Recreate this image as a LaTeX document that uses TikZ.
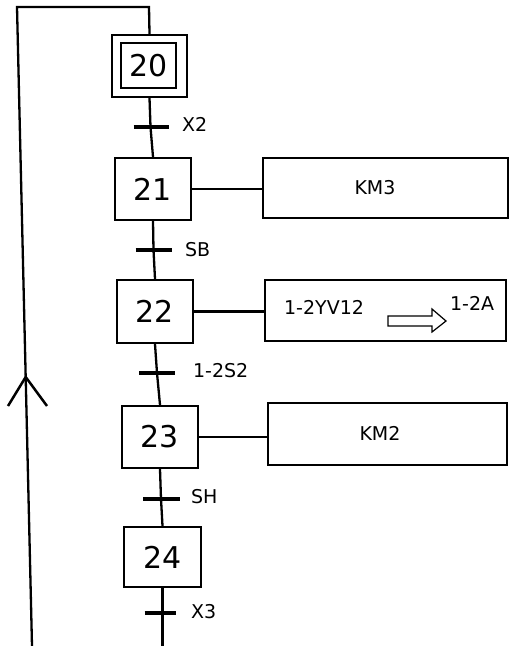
\documentclass[tikz,border=0pt]{standalone}
\usepackage{fontspec}
\setmainfont{DejaVu Sans}
\begin{document}
\begin{tikzpicture}[x=1pt,y=-1pt,line width=2.3pt,
  stepbox/.style={draw,minimum width=76pt,minimum height=62pt,inner sep=0pt,font=\fontsize{30}{31}\selectfont},
  actbox/.style={draw,inner sep=0pt},
  lbl/.style={anchor=west,inner sep=0pt,font=\fontsize{19}{20}\selectfont},
  bar/.style={line width=3.2pt}]
\useasboundingbox (0,0) rectangle (510,646);
% steps
\node[stepbox,minimum width=75pt,minimum height=62pt] (s20) at (149.5,66) {};
\node[stepbox,minimum width=55pt,minimum height=45pt] (s20i) at (148.5,65.5) {20};
\node[stepbox] (s21) at (153,189) {21};
\node[stepbox,minimum height=63pt] (s22) at (155,311.5) {22};
\node[stepbox] (s23) at (160,437) {23};
\node[stepbox,minimum width=77pt,minimum height=60pt] (s24) at (162.5,557) {24};
% actions
\node[actbox,minimum width=245pt,minimum height=60pt] (a21) at (385.5,188) {};
\node[font=\fontsize{19}{20}\selectfont] (t21) at (375,188) {KM3};
\node[actbox,minimum width=241pt,minimum height=61pt] (a22) at (385.5,310.5) {};
\node[lbl] (t22a) at (283,307) {1-2YV12};
\node[lbl] (t22b) at (449,303) {1-2A};
\node[actbox,minimum width=239pt,minimum height=62pt] (a23) at (387.5,434) {};
\node[font=\fontsize{19}{20}\selectfont] (t23) at (380,433) {KM2};
% hollow arrow
\draw[line width=1.2pt] (388,316) -- (432,316) -- (432,309) -- (446,321) -- (432,332) -- (432,326) -- (388,326) -- cycle;
% transitions
\coordinate (tr1) at (150.5,127);
\coordinate (tr2) at (153.5,250);
\coordinate (tr3) at (157,373);
\coordinate (tr4) at (161,499);
\coordinate (tr5) at (162.5,613);
\draw[bar] ([xshift=-17pt]tr1) -- ([xshift=18pt]tr1);
\draw[bar] ([xshift=-18pt]tr2) -- ([xshift=18pt]tr2);
\draw[bar] ([xshift=-18pt]tr3) -- ([xshift=18pt]tr3);
\draw[bar] ([xshift=-18pt]tr4) -- ([xshift=19pt]tr4);
\draw[bar] ([xshift=-18pt]tr5) -- ([xshift=13pt]tr5);
\node[lbl] (l1) at (181,124) {X2};
\node[lbl] (l2) at (184,250) {SB};
\node[lbl] (l3) at (192,371) {1-2S2};
\node[lbl] (l4) at (190,497) {SH};
\node[lbl] (l5) at (190,612) {X3};
% vertical links
\draw (s20.south) -- (tr1) -- (s21.north);
\draw (s21.south) -- (tr2) -- (s22.north);
\draw (s22.south) -- (tr3) -- (s23.north);
\draw (s23.south) -- (tr4) -- (s24.north);
\coordinate (bot) at (162.5,646);
\draw (s24.south) -- (tr5) -- (bot);
% action links
\draw (s21.east) -- (s21.east -| a21.west);
\draw (s22.east) -- (s22.east -| a22.west);
\draw (s23.east) -- (s23.east -| a23.west);
% loop back
\coordinate (tl) at (17,7);
\coordinate (tr) at (149,7);
\coordinate (bl) at (32,646);
\draw (bl) -- (tl) -- (tr) -- (s20.north);
\coordinate (ap) at (25.7,377);
\draw[line width=2.5pt] (8,406) -- (ap) -- (47,406);
\end{tikzpicture}
\end{document}
